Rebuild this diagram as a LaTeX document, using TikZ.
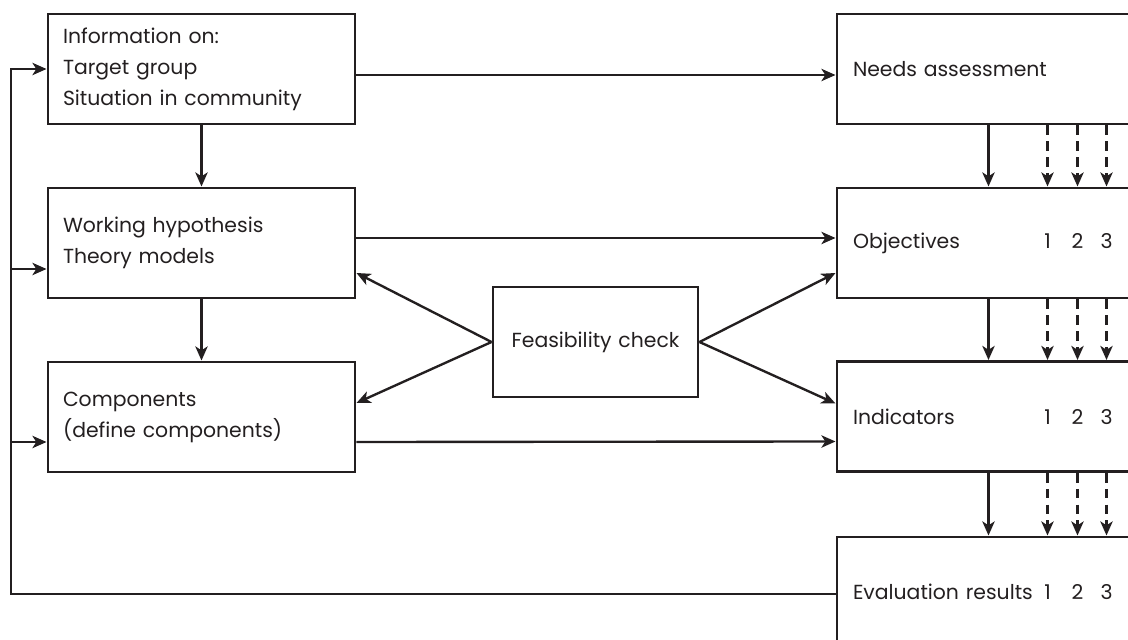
\documentclass[tikz,border=0pt]{standalone}
\usepackage{fontspec}
\setmainfont{Poppins}
\usepackage{xcolor}
\definecolor{inkgray}{RGB}{35,31,32}
\usetikzlibrary{arrows.meta,positioning,calc}

\begin{document}
\begin{tikzpicture}[
        blk/.style={rectangle, draw=inkgray, line width=1.7pt, minimum width=6.14cm,
          minimum height=2.2cm, inner sep=0pt, text width=5.54cm, align=left,
          font=\fontsize{11.6}{17.6}\selectfont, text=inkgray},
        rblk/.style={blk, minimum width=6.46cm, text width=5.82cm},
        num/.style={font=\fontsize{11.6}{17.6}\selectfont, text=inkgray, inner sep=0pt, anchor=base},
        arr/.style={-{Stealth[length=8pt, width=7pt, inset=2.2pt]}, line width=1.35pt, draw=inkgray},
        darr/.style={arr, dash pattern=on 5.5pt off 3.5pt}
      ]
        \useasboundingbox (0,0) rectangle (22.56,12.78);
        \clip (0,0) rectangle (22.56,12.78);

        % Left column
        \node[blk] (info) at (4.03,11.40) {Information on:\\Target group\\Situation in community};
        \node[blk] (hypo) at (4.03,7.92)  {Working hypothesis\\Theory models};
        \node[blk] (comp) at (4.03,4.44)  {Components\\(define components)};

        % Feasibility check
        \node[blk, minimum width=4.1cm, text width=3.9cm, align=center] (feas) at (11.91,5.94) {Feasibility check};

        % Right column (cut off at the right edge)
        \node[rblk] (needs) at (19.97,11.40) {Needs assessment};
        \node[rblk] (obj)   at (19.97,7.92)  {Objectives};
        \node[rblk] (ind)   at (19.97,4.45)  {Indicators};
        \node[rblk] (evalr) at (19.97,0.94)  {Evaluation results};

        % Numbers 1 2 3
        \foreach \i/\dx in {1/4.24, 2/4.84, 3/5.42} {
          \node[num] (obj\i) at ([xshift=\dx cm]obj.base west) {\i};
          \node[num] (ind\i) at ([xshift=\dx cm]ind.base west) {\i};
          \node[num] (evalr\i) at ([xshift=\dx cm]evalr.base west) {\i};
        }

        % Down the left column
        \draw[arr] (info) -- (hypo);
        \draw[arr] (hypo) -- (comp);

        % Across
        \draw[arr] ([yshift=-0.12cm]info.east) -- ([yshift=-0.12cm]needs.west);
        \draw[arr] ([yshift=0.10cm]hypo.east) -- ([yshift=0.10cm]obj.west);
        \draw[arr] ([yshift=-0.5cm]comp.east) -- ([yshift=-0.5cm]ind.west);

        % Feasibility arrows
        \draw[arr] (feas.west) -- ([yshift=-0.6cm]hypo.east);
        \draw[arr] (feas.west) -- ([yshift=0.28cm]comp.east);
        \draw[arr] (feas.east) -- ([yshift=-0.6cm]obj.west);
        \draw[arr] (feas.east) -- ([yshift=0.26cm]ind.west);

        % Down the right column
        \foreach \up/\lo in {needs/obj, obj/ind, ind/evalr} {
          \draw[arr] ([xshift=3.06cm]\up.south west) -- ([xshift=3.06cm]\lo.north west);
          \foreach \dx in {4.24, 4.84, 5.42}
            \draw[darr] ([xshift=\dx cm]\up.south west) -- ([xshift=\dx cm]\lo.north west);
        }

        % Feedback loop
        \coordinate (fb) at (0.22,0);
        \coordinate (hin) at ([yshift=-0.52cm]hypo.west);
        \coordinate (cin) at ([yshift=-0.5cm]comp.west);
        \draw[arr] ([yshift=-0.04cm]evalr.west) -| (fb |- info.west) -- (info.west);
        \draw[arr] (fb |- hin) -- (hin);
        \draw[arr] (fb |- cin) -- (cin);
      \end{tikzpicture}
\end{document}
